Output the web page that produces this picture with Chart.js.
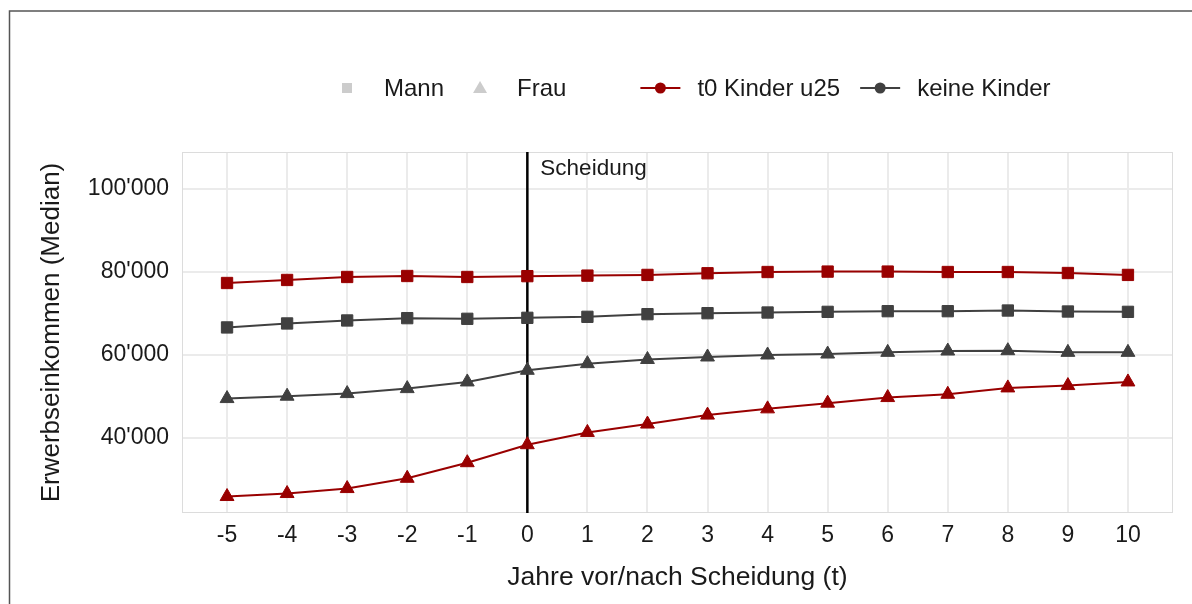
<!DOCTYPE html>
<html>
<head>
<meta charset="utf-8">
<script src="https://cdn.jsdelivr.net/npm/chart.js@4"></script>
<style>
  body { margin: 0; background: #fff; }
  #wrap { width: 1192px; height: 604px; }
</style>
</head>
<body>
<div id="wrap"><canvas id="incomeChart" width="1192" height="604"></canvas></div>
<script>
// Data
const years = [-5, -4, -3, -2, -1, 0, 1, 2, 3, 4, 5, 6, 7, 8, 9, 10];
const mannKinder = [77350, 78080, 78800, 79040, 78800, 79000, 79130, 79300, 79700, 80000, 80100, 80100, 80000, 80000, 79760, 79300];
const mannKeine = [66630, 67590, 68310, 68870, 68710, 68950, 69190, 69830, 70070, 70230, 70390, 70550, 70550, 70710, 70470, 70390];
const frauKeine = [49470, 50040, 50670, 51870, 53480, 56290, 57890, 58900, 59500, 59980, 60210, 60620, 60940, 61020, 60620, 60620];
const frauKinder = [25840, 26560, 27760, 30240, 34000, 38340, 41300, 43320, 45480, 46990, 48360, 49710, 50510, 52040, 52600, 53480];
const yTicks = [40000, 60000, 80000, 100000];
const eventYear = 0;
const eventLabel = 'Scheidung';
const shapeLegend = ['Mann', 'Frau'];
const groupLegend = ['t0 Kinder u25', 'keine Kinder'];

const RED = '#990000';
const GREY = '#404040';
const FONT = "'Liberation Sans', Arial, sans-serif";

function fmt(v) {
    return String(v).replace(/\B(?=(\d{3})+(?!\d))/g, "'");
}

function series(vals) {
    return years.map((t, i) => ({ x: t, y: vals[i] }));
}

function ds(label, vals, color, shape) {
    return {
        label: label,
        data: series(vals),
        borderColor: color,
        backgroundColor: color,
        borderWidth: 2,
        pointStyle: shape,
        pointRadius: 8,
        pointBorderWidth: 1,
        pointHoverRadius: 8,
        tension: 0
    };
}

// frame, panel border, divorce line + legend
const decorations = {
    id: 'decorations',
    beforeDraw(chart) {
        const ctx = chart.ctx;
        ctx.save();
        ctx.strokeStyle = '#555';
        ctx.lineWidth = 1.5;
        ctx.beginPath();
        ctx.moveTo(9.5, 604);
        ctx.lineTo(9.5, 11);
        ctx.lineTo(1192, 11);
        ctx.stroke();
        ctx.restore();
    },
    beforeDatasetsDraw(chart) {
        const { ctx, chartArea: a, scales: { x, y } } = chart;
        ctx.save();
        ctx.strokeStyle = '#dcdcdc';
        ctx.lineWidth = 1;
        ctx.strokeRect(a.left + 0.5, a.top + 0.5, a.right - a.left - 1, a.bottom - a.top - 1);
        const px = x.getPixelForValue(eventYear);
        ctx.strokeStyle = '#000';
        ctx.lineWidth = 2.5;
        ctx.beginPath();
        ctx.moveTo(px, a.top);
        ctx.lineTo(px, a.bottom);
        ctx.stroke();
        ctx.fillStyle = '#1a1a1a';
        ctx.font = '22.5px ' + FONT;
        ctx.textBaseline = 'middle';
        ctx.textAlign = 'left';
        ctx.fillText(eventLabel, px + 13, y.getPixelForValue(105000));
        ctx.restore();
    },
    afterDraw(chart) {
        const ctx = chart.ctx;
        const ly = 88;
        ctx.save();
        ctx.font = '24px ' + FONT;
        ctx.textBaseline = 'middle';
        ctx.textAlign = 'left';
        let cx = 347;
        // shape keys
        shapeLegend.forEach((name, i) => {
            ctx.fillStyle = '#cccccc';
            if (i === 0) {
                ctx.fillRect(cx - 5, ly - 5, 10, 10);
            } else {
                ctx.beginPath();
                ctx.moveTo(cx, ly - 7);
                ctx.lineTo(cx + 7, ly + 5);
                ctx.lineTo(cx - 7, ly + 5);
                ctx.closePath();
                ctx.fill();
            }
            ctx.fillStyle = '#1a1a1a';
            ctx.fillText(name, cx + 37, ly + 1);
            cx = cx + 37 + ctx.measureText(name).width + 36;
        });
        cx += 58;
        // colour keys
        [RED, GREY].forEach((col, i) => {
            ctx.strokeStyle = col;
            ctx.fillStyle = col;
            ctx.lineWidth = 2;
            ctx.beginPath();
            ctx.moveTo(cx - 20, ly);
            ctx.lineTo(cx + 20, ly);
            ctx.stroke();
            ctx.beginPath();
            ctx.arc(cx, ly, 5.5, 0, Math.PI * 2);
            ctx.fill();
            ctx.fillStyle = '#1a1a1a';
            ctx.fillText(groupLegend[i], cx + 37, ly + 1);
            cx = cx + 37 + ctx.measureText(groupLegend[i]).width + 40;
        });
        ctx.restore();
    }
};

const ctx = document.getElementById('incomeChart').getContext('2d');
const incomeChart = new Chart(ctx, {
    type: 'line',
    data: {
        datasets: [
            ds(shapeLegend[0] + ' ' + groupLegend[0], mannKinder, RED, 'rect'),
            ds(shapeLegend[0] + ' ' + groupLegend[1], mannKeine, GREY, 'rect'),
            ds(shapeLegend[1] + ' ' + groupLegend[1], frauKeine, GREY, 'triangle'),
            ds(shapeLegend[1] + ' ' + groupLegend[0], frauKinder, RED, 'triangle')
        ]
    },
    options: {
        responsive: false,
        animation: false,
        layout: { padding: { top: 152, right: 19, left: 0, bottom: 0 } },
        scales: {
            x: {
                type: 'linear',
                min: -5.75,
                max: 10.75,
                afterBuildTicks: (s) => { s.ticks = years.map(v => ({ value: v })); },
                afterFit: (s) => { s.height = 91; },
                grid: { color: '#ebebeb', lineWidth: 2, drawTicks: false },
                border: { display: false },
                ticks: {
                    padding: 9,
                    color: '#1a1a1a',
                    font: { family: FONT, size: 23 },
                    maxRotation: 0,
                    autoSkip: false
                },
                title: {
                    display: true,
                    text: 'Jahre vor/nach Scheidung (t)',
                    color: '#1a1a1a',
                    font: { family: FONT, size: 26.5 },
                    padding: { top: 0, bottom: 10 }
                }
            },
            y: {
                min: 21865,
                max: 108950,
                afterBuildTicks: (s) => { s.ticks = yTicks.map(v => ({ value: v })); },
                afterFit: (s) => { s.width = 182; },
                grid: { color: '#ebebeb', lineWidth: 2, drawTicks: false },
                border: { display: false },
                ticks: {
                    padding: 13,
                    color: '#1a1a1a',
                    font: { family: FONT, size: 23 },
                    callback: (v) => fmt(v)
                },
                title: {
                    display: true,
                    text: 'Erwerbseinkommen (Median)',
                    color: '#1a1a1a',
                    font: { family: FONT, size: 26 },
                    padding: { top: 36, bottom: 0 }
                }
            }
        },
        plugins: {
            legend: { display: false },
            tooltip: { enabled: false }
        }
    },
    plugins: [decorations]
});
</script>
</body>
</html>
